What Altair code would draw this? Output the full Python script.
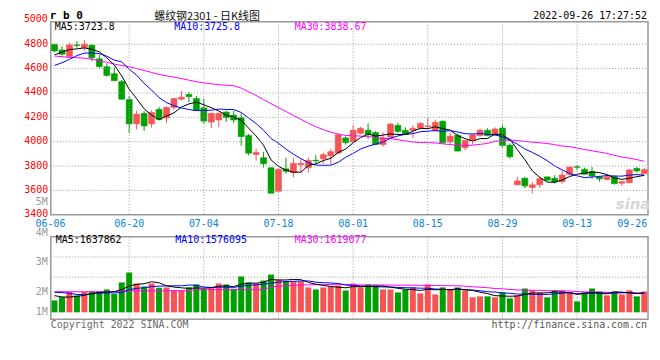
import altair as alt
import pandas as pd

# ---------------- data ----------------
dates = ["06-06","06-07","06-08","06-09","06-10","06-13","06-14","06-15","06-16","06-17",
         "06-20","06-21","06-22","06-23","06-24","06-27","06-28","06-29","06-30","07-01",
         "07-04","07-05","07-06","07-07","07-08","07-11","07-12","07-13","07-14","07-15",
         "07-18","07-19","07-20","07-21","07-22","07-25","07-26","07-27","07-28","07-29",
         "08-01","08-02","08-03","08-04","08-05","08-08","08-09","08-10","08-11","08-12",
         "08-15","08-16","08-17","08-18","08-19","08-22","08-23","08-24","08-25","08-26",
         "08-29","08-30","08-31","09-01","09-02","09-05","09-06","09-07","09-08","09-09",
         "09-13","09-14","09-15","09-16","09-19","09-20","09-21","09-22","09-23","09-26"]

open_p = [4800,4753,4699,4795,4772,4792,4680,4615,4558,4493,
          4346,4146,4232,4146,4265,4194,4281,4349,4387,4354,
          4278,4161,4178,4243,4218,4197,4050,3895,3868,3786,
          3593,3777,3746,3811,3786,3848,3860,3884,3906,4031,
          3998,4069,4094,4075,3977,4037,4134,4094,4094,4113,
          4124,4091,4167,3998,4053,3950,4010,4050,4094,4055,
          4112,3971,3646,3700,3624,3646,3711,3700,3672,3733,
          3795,3773,3754,3711,3689,3711,3659,3664,3781,3738]

high_p = [4800,4784,4813,4827,4835,4800,4715,4642,4610,4507,
          4376,4257,4251,4257,4284,4290,4360,4417,4409,4376,
          4353,4240,4240,4254,4254,4232,4064,3944,3917,3790,
          3780,3868,3868,3853,3870,3889,3910,3939,4065,4043,
          4134,4121,4151,4085,4080,4155,4156,4118,4134,4160,
          4197,4181,4175,4075,4070,4012,4065,4106,4110,4118,
          4137,3985,3711,3711,3672,3713,3713,3725,3760,3795,
          3808,3787,3792,3720,3725,3725,3680,3775,3792,3784]

low_p = [4735,4707,4691,4772,4745,4661,4604,4534,4496,4345,
         4072,4099,4088,4116,4175,4153,4262,4338,4322,4255,
         4146,4112,4120,4161,4152,3966,3888,3844,3786,3577,
         3590,3737,3707,3746,3746,3822,3815,3813,3900,3977,
         3990,4060,4023,3975,3958,4030,4069,4055,4031,4100,
         4113,4085,3985,3977,3923,3928,3977,4040,4045,4050,
         3945,3860,3644,3619,3575,3619,3678,3656,3656,3719,
         3765,3730,3695,3672,3685,3648,3638,3660,3746,3735]

close_p = [4745,4718,4795,4790,4800,4688,4617,4544,4501,4349,
           4146,4226,4129,4240,4181,4281,4354,4365,4370,4257,
           4169,4232,4232,4197,4178,4042,3906,3911,3819,3577,
           3773,3757,3822,3822,3847,3842,3893,3918,4057,3992,
           4094,4110,4059,3977,4031,4145,4085,4059,4110,4151,
           4130,4159,3990,4045,3923,4010,4055,4094,4050,4104,
           3969,3876,3678,3637,3646,3697,3684,3670,3727,3792,
           3790,3733,3719,3695,3711,3656,3672,3768,3760,3770]

ma5_p = [4713,4735,4756,4762,4770,4758,4738,4688,4630,4540,
         4431,4353,4270,4218,4184,4211,4237,4284,4310,4325,
         4303,4279,4252,4217,4202,4176,4111,4047,3971,3851,
         3797,3767,3750,3750,3804,3818,3845,3864,3911,3940,
         3991,4034,4062,4046,4054,4064,4059,4059,4086,4110,
         4107,4122,4108,4095,4049,4025,4005,4025,4026,4063,
         4054,4019,3935,3853,3761,3707,3668,3667,3685,3714,
         3733,3742,3752,3746,3730,3703,3691,3700,3713,3724]

ma10_p = [4626,4648,4675,4707,4727,4729,4723,4702,4670,4655,
          4595,4546,4479,4424,4362,4321,4295,4277,4264,4255,
          4257,4258,4268,4264,4264,4240,4195,4149,4094,4026,
          3987,3939,3898,3861,3828,3808,3806,3807,3831,3872,
          3904,3940,3963,3979,3997,4028,4047,4061,4066,4082,
          4086,4091,4084,4091,4080,4066,4063,4067,4061,4056,
          4040,4012,3980,3940,3912,3881,3844,3801,3769,3738,
          3720,3705,3710,3715,3722,3718,3717,3726,3730,3726]

ma30_p = [4703,4698,4692,4689,4686,4677,4665,4652,4637,4626,
          4615,4600,4585,4568,4552,4540,4530,4518,4505,4492,
          4483,4475,4468,4464,4460,4440,4410,4380,4345,4312,
          4280,4248,4215,4183,4151,4123,4099,4078,4063,4051,
          4049,4046,4043,4034,4029,4025,4016,4006,3997,3994,
          3992,3990,3982,3977,3968,3967,3972,3978,3986,4003,
          4010,4014,4009,4003,3996,3991,3985,3976,3965,3959,
          3948,3936,3925,3915,3904,3888,3874,3865,3853,3839]

# volume, millions of lots
vol_m = [1.00,1.29,1.71,1.42,1.71,1.75,1.75,1.92,1.55,2.51,
         3.34,2.42,2.17,2.42,2.06,2.09,1.86,1.86,2.11,2.34,
         1.98,2.03,2.42,2.34,1.98,3.01,2.51,2.42,2.67,3.17,
         2.76,2.59,2.59,2.59,2.09,1.92,2.09,2.17,2.26,1.84,
         2.42,2.11,2.34,2.26,1.92,1.92,1.67,1.92,2.11,1.59,
         2.34,1.50,2.09,1.92,2.09,1.84,1.25,1.34,1.34,1.25,
         1.67,1.17,1.42,2.00,1.84,1.67,1.25,1.84,1.84,1.67,
         0.92,1.67,2.00,1.75,1.42,1.75,1.50,1.84,1.34,1.75]

vma5 = [1.40,1.29,1.28,1.34,1.43,1.58,1.67,1.71,1.74,1.90,
        2.21,2.35,2.40,2.57,2.48,2.23,2.12,2.06,2.00,2.05,
        2.03,2.07,2.18,2.22,2.15,2.36,2.45,2.45,2.52,2.76,
        2.71,2.72,2.76,2.74,2.52,2.36,2.26,2.17,2.11,2.06,
        2.16,2.16,2.19,2.19,2.21,2.11,2.02,1.94,1.91,1.84,
        1.93,1.89,1.93,1.89,1.99,1.89,1.84,1.69,1.57,1.40,
        1.37,1.35,1.37,1.50,1.62,1.62,1.64,1.72,1.69,1.65,
        1.50,1.59,1.62,1.60,1.55,1.72,1.69,1.65,1.57,1.64]

vma10 = [1.67,1.67,1.59,1.50,1.48,1.55,1.61,1.63,1.63,1.66,
         1.90,2.01,2.06,2.16,2.19,2.22,2.23,2.23,2.29,2.27,
         2.13,2.09,2.12,2.11,2.10,2.19,2.26,2.31,2.37,2.45,
         2.53,2.59,2.60,2.63,2.64,2.53,2.49,2.46,2.42,2.29,
         2.26,2.21,2.18,2.15,2.13,2.13,2.09,2.07,2.05,2.03,
         2.02,1.96,1.93,1.90,1.92,1.91,1.87,1.81,1.73,1.70,
         1.63,1.60,1.53,1.54,1.51,1.50,1.50,1.55,1.60,1.64,
         1.56,1.61,1.67,1.65,1.60,1.61,1.64,1.64,1.59,1.58]

vma30 = [1.73,1.73,1.73,1.73,1.73,1.73,1.73,1.73,1.73,1.81,
         1.81,1.81,1.81,1.81,1.81,1.81,1.81,1.81,1.81,1.90,
         1.90,1.90,1.90,1.90,1.90,1.90,1.90,1.90,1.90,2.13,
         2.19,2.23,2.26,2.30,2.31,2.32,2.33,2.34,2.36,2.34,
         2.31,2.30,2.30,2.30,2.29,2.29,2.28,2.28,2.28,2.26,
         2.27,2.25,2.24,2.23,2.23,2.19,2.15,2.11,2.07,2.00,
         1.97,1.92,1.88,1.86,1.85,1.85,1.82,1.81,1.79,1.79,
         1.74,1.72,1.71,1.69,1.68,1.67,1.67,1.66,1.64,1.62]

price_ticks = [3400, 3600, 3800, 4000, 4200, 4400, 4600, 4800]
price_top_label = [5000]
date_ticks = ["06-06", "06-20", "07-04", "07-18", "08-01", "08-15", "08-29", "09-13", "09-26"]
grid_dates = ["06-20", "07-04", "07-18", "08-01", "08-15", "08-29", "09-13"]
vol_grid = [1.23, 2.95, 4.65]
vol_axis_labels = ["1M", "2M", "3M", "4M", "5M"]
vol_axis_pos = [0.0, 1.67, 4.2, 6.7, 9.27]

title_code = "r b 0"
title_cn = "螺纹钢2301 - 日K线图"
timestamp = "2022-09-26 17:27:52"
ma_price_labels = ["MA5:3723.8", "MA10:3725.8", "MA30:3838.67"]
ma_vol_labels = ["MA5:1637862", "MA10:1576095", "MA30:1619077"]
copyright_txt = "Copyright 2022 SINA.COM"
url_txt = "http://finance.sina.com.cn"

# ---------------- styling ----------------
RED = "#f65454"
GREEN = "#00a000"
BLUE_LBL = "#0a82d8"
GRID = "#999999"
DASH = [1, 2]
MONO = "DejaVu Sans Mono"
MA_COLORS = ["#000000", "#0000ff", "#ff00ff"]

df = pd.DataFrame({
    "date": dates, "open": open_p, "high": high_p, "low": low_p, "close": close_p,
    "ma5": ma5_p, "ma10": ma10_p, "ma30": ma30_p,
    "vol": vol_m, "vma5": vma5, "vma10": vma10, "vma30": vma30,
})
df["dir"] = ["up" if c > o else "down" for o, c in zip(open_p, close_p)]

xscale = alt.Scale(type="band", domain=dates, paddingInner=0, paddingOuter=0)

xaxis_top = alt.Axis(
    values=date_ticks, title=None, domain=False, ticks=False, grid=False,
    labelColor=BLUE_LBL, labelFont=MONO, labelFontSize=10, labelPadding=4,
    labelAngle=0, labelOverlap=False,
    labelAlign={"expr": "datum.value == '09-26' ? 'right' : 'center'"},
    labelOffset={"expr": "datum.value == '09-26' ? 3 : (datum.value == '06-06' ? -4 : 0)"})
xaxis_vol = alt.Axis(values=date_ticks, title=None, domain=False, ticks=False, labels=False, grid=False)

yscale = alt.Scale(domain=[3400, 4985], nice=False, zero=False)
yaxis = alt.Axis(values=price_ticks, format="d", title=None, domain=False, ticks=False, grid=False,
                 labelColor="#ff0000", labelFont=MONO, labelFontSize=10, labelPadding=3,
                 labelOffset=-1)

vyscale = alt.Scale(domain=[-0.585, 6.35], nice=False, zero=False)
vyaxis = alt.Axis(values=vol_grid, title=None, domain=False, ticks=False, labels=False, grid=False)

x_top = alt.X("date:O", scale=xscale, axis=xaxis_top)
x_vol = alt.X("date:O", scale=xscale, axis=xaxis_vol)

color = alt.Color("dir:N", scale=alt.Scale(domain=["up", "down"], range=[RED, GREEN]), legend=None)
base = alt.Chart(df)
one = alt.Data(values=[{}])


def fixed_text(txt, x, y, **kw):
    props = dict(font=MONO, fontSize=10, baseline="middle", align="left")
    props.update(kw)
    return alt.Chart(one).mark_text(text=txt, **props).encode(x=alt.value(x), y=alt.value(y))


def grid_rules(xaxis, ydf, ysc, yax, height):
    h = alt.Chart(ydf).mark_rule(color=GRID, strokeDash=DASH, strokeWidth=1, opacity=1).encode(
        x=alt.value(0), x2=alt.value(600), y=alt.Y("g:Q", scale=ysc, axis=yax))
    v = alt.Chart(pd.DataFrame({"date": grid_dates})).mark_rule(
        color=GRID, strokeDash=DASH, strokeWidth=1, opacity=1).encode(
        x=alt.X("date:O", scale=xscale, axis=xaxis), y=alt.value(0), y2=alt.value(height))
    return h, v


# ---------------- price panel ----------------
ph, pv = grid_rules(xaxis_top, pd.DataFrame({"g": price_ticks[1:]}), yscale, yaxis, 194)
wick = base.mark_rule(strokeWidth=1).encode(
    x=x_top, y=alt.Y("low:Q", scale=yscale, axis=yaxis), y2="high:Q", color=color)
body = base.mark_bar(size=6, strokeWidth=0.6).encode(
    x=x_top, y=alt.Y("open:Q", scale=yscale, axis=yaxis), y2="close:Q", color=color,
    stroke=color)
lines = [base.mark_line(color=c, strokeWidth=1).encode(
    x=x_top, y=alt.Y(f"{f}:Q", scale=yscale, axis=yaxis))
    for f, c in zip(["ma30", "ma10", "ma5"], MA_COLORS[::-1])]

top_lbl = alt.Chart(pd.DataFrame({"v": price_top_label})).mark_text(
    align="right", baseline="middle", font=MONO, fontSize=10, color="#ff0000", dy=-1
).encode(x=alt.value(-3), y=alt.Y("v:Q", scale=yscale, axis=yaxis), text=alt.Text("v:Q", format="d"))

header = [
    fixed_text(title_code, -1, -5.5, fontWeight="bold", fontSize=11),
    fixed_text(title_cn, 157, -5, align="center",
               font="Noto Sans CJK SC", fontSize=11, color="#111111"),
    fixed_text(timestamp, 599, -5.5, align="right"),
    fixed_text(ma_price_labels[0], 4, 5.5, color=MA_COLORS[0]),
    fixed_text(ma_price_labels[1], 124, 5.5, color=MA_COLORS[1]),
    fixed_text(ma_price_labels[2], 245, 5.5, color=MA_COLORS[2]),
    fixed_text("sina", 585, 183, align="center", font="DejaVu Sans", fontSize=15,
               fontStyle="italic", fontWeight="bold", color="#d6d6d6"),
]

price = alt.layer(wick, body, *lines, top_lbl, *header, ph, pv).properties(width=600, height=194)

# ---------------- volume panel ----------------
vh, vv = grid_rules(xaxis_vol, pd.DataFrame({"g": vol_grid}), vyscale, vyaxis, 83)
vbars = base.mark_bar(size=6).encode(
    x=x_vol, y=alt.Y("vol:Q", scale=vyscale, axis=vyaxis), y2=alt.datum(0), color=color)
vlines = [base.mark_line(color=c, strokeWidth=1).encode(
    x=x_vol, y=alt.Y(f"{f}:Q", scale=vyscale, axis=vyaxis))
    for f, c in zip(["vma30", "vma10", "vma5"], MA_COLORS[::-1])]
vlabels = alt.Chart(pd.DataFrame({"label": vol_axis_labels, "pos": vol_axis_pos})).mark_text(
    align="right", baseline="middle", font=MONO, fontSize=10, color="#999999"
).encode(x=alt.value(-3), y=alt.Y("pos:Q", scale=vyscale, axis=vyaxis), text="label:N")

vtexts = [
    fixed_text(ma_vol_labels[0], 5, 3.8, color=MA_COLORS[0]),
    fixed_text(ma_vol_labels[1], 125, 3.8, color=MA_COLORS[1]),
    fixed_text(ma_vol_labels[2], 245, 3.8, color=MA_COLORS[2]),
    fixed_text(copyright_txt, 0, 88.5, color="#6a6a6a"),
    fixed_text(url_txt, 599, 89, align="right", color="#555555"),
]

volume = alt.layer(vh, vv, vbars, *vlines, vlabels, *vtexts).properties(width=600, height=83)

chart = alt.vconcat(price, volume, spacing=22, bounds="flush").properties(
    padding={"left": 15, "top": 0, "right": 0, "bottom": 0}, background="white"
).configure_view(stroke="#999999", strokeWidth=1.5)

chart.save("out.html", embed_options={"renderer": "svg", "actions": False})
